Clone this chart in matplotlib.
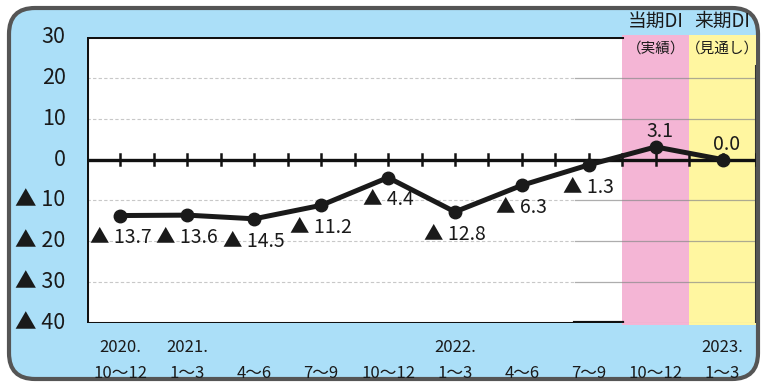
import matplotlib
matplotlib.use("Agg")
import matplotlib.pyplot as plt
from matplotlib.patches import FancyBboxPatch, Rectangle

plt.rcParams['font.family'] = ['Noto Sans CJK JP', 'DejaVu Sans']

# quarterly DI values
values = [-13.7, -13.6, -14.5, -11.2, -4.4, -12.8, -6.3, -1.3, 3.1, 0.0]
year_labels = ["2020.", "2021.", "", "", "", "2022.", "", "", "", "2023."]
quarter_labels = ["10～12", "1～3", "4～6", "7～9", "10～12",
                  "1～3", "4～6", "7～9", "10～12", "1～3"]
y_ticks = [30, 20, 10, 0, -10, -20, -30, -40]
y_tick_labels = ["30", "20", "10", "0", "▲ 10", "▲ 20", "▲ 30", "▲ 40"]
band_labels = [("当期DI", "（実績）"), ("来期DI", "（見通し）")]

W, H = 763, 383
fig = plt.figure(figsize=(W / 100, H / 100), dpi=100)
fig.patch.set_facecolor("white")

# rounded blue panel behind everything
panel = FancyBboxPatch((9, 4), 749, 371, boxstyle="round,pad=0,rounding_size=26",
                       transform=None, facecolor="#abdff8", edgecolor="#555555",
                       linewidth=3, zorder=-5)
fig.patches.append(panel)

ax = fig.add_axes([87 / W, (H - 323) / H, (756 - 87) / W, (323 - 37) / H])
ax.set_facecolor("white")
ax.set_xlim(-0.5, 9.5)
ax.set_ylim(-40, 30)
for s in ax.spines.values():
    s.set_visible(False)

x = list(range(len(values)))
n = len(values)

# forecast bands
ax.add_patch(Rectangle((n - 2.5, -40.6), 1, 71.1, facecolor="#f4b5d5", edgecolor="none",
                       zorder=1, clip_on=False))
ax.add_patch(Rectangle((n - 1.5, -40.6), 1, 71.1, facecolor="#fff6a0", edgecolor="none",
                       zorder=1, clip_on=False))

# grid lines
split = n - 3.2
for yv in [20, 10, -10, -20, -30]:
    ax.plot([-0.5, split], [yv, yv], color="#c8c8c8", lw=0.8, ls=(0, (3, 2)), zorder=2)
    ax.plot([split, 9.5], [yv, yv], color="#8a8a8a", lw=0.9, alpha=0.7, zorder=2)

# frame
ax.plot([-0.5, -0.5], [-40, 30], color="#111111", lw=2.2, zorder=3, solid_capstyle="butt")
ax.plot([-0.5, n - 2.5], [30, 30], color="#111111", lw=2.2, zorder=3)
ax.plot([-0.5, n - 2.5], [-40, -40], color="#111111", lw=2.2, zorder=3)
ax.plot([split, n - 2.5], [-40, -40], color="#111111", lw=3, zorder=3)
ax.plot([n - 2.5, 9.5], [-40.2, -40.2], color="#b08a9a", lw=1.5, zorder=3)
ax.plot([9.5, 9.5], [-40, 23], color="#333333", lw=1.5, zorder=3)

# zero line with ticks
ax.axhline(0, color="#111111", lw=2.4, zorder=4)
for k in range(1, 2 * n + 1):
    xt = -0.5 + k * 0.5
    ax.plot([xt, xt], [-1.3, 1.3], color="#111111", lw=1.8, zorder=4)

ax.plot(x, values, color="#1a1a1a", lw=3.6, marker="o", markersize=9, zorder=5)

# value labels
for xi, v in zip(x, values):
    if v < 0:
        ax.annotate(f"▲ {abs(v):.1f}", (xi, v), xytext=(0, -16), textcoords="offset points",
                    ha="center", va="center", fontsize=14, color="#1a1a1a", zorder=6)
    else:
        ax.annotate(f"{v:.1f}", (xi, v), xytext=(3, 11), textcoords="offset points",
                    ha="center", va="center", fontsize=14, color="#1a1a1a", zorder=6)

# y tick labels
ax.set_yticks([])
ax.set_xticks([])
for yv, lab in zip(y_ticks, y_tick_labels):
    ax.text(-0.82, yv, lab, ha="right", va="center", fontsize=15.5, color="#1a1a1a",
            clip_on=False)

# x tick labels (two rows)
for xi, yl, ql in zip(x, year_labels, quarter_labels):
    ax.annotate(yl, (xi, -40), xytext=(0, -18), textcoords="offset points",
                ha="center", va="center", fontsize=12, color="#1a1a1a")
    ax.annotate(ql, (xi, -40), xytext=(0, -36), textcoords="offset points",
                ha="center", va="center", fontsize=12, color="#1a1a1a")

# band headers
for j, (top, sub) in enumerate(band_labels):
    xb = n - 2 + j
    ax.annotate(top, (xb, 30), xytext=(0, 11), textcoords="offset points",
                ha="center", va="center", fontsize=13.5, color="#1a1a1a")
    ax.annotate(sub, (xb, 30), xytext=(0, -8), textcoords="offset points",
                ha="center", va="center", fontsize=10.5, color="#1a1a1a")

fig.savefig("out.png", dpi=100)
